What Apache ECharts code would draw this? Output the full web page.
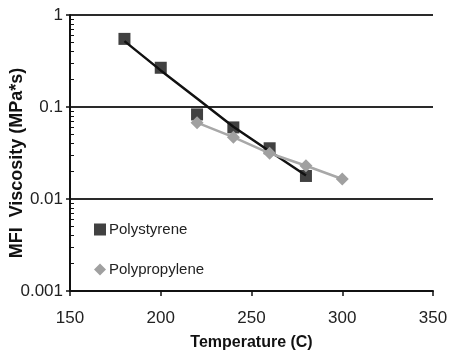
<!DOCTYPE html>
<html><head><meta charset="utf-8">
<script src="https://cdn.jsdelivr.net/npm/echarts@6/dist/echarts.min.js"></script>
<style>html,body{margin:0;padding:0;background:#fff}#c{width:453px;height:353px}</style>
</head><body><div id="c"></div>
<script>
// Data
const psTemps = [180, 200, 220, 240, 260, 280];
const psValues = [0.55, 0.267, 0.083, 0.060, 0.0356, 0.0178];
const psTrendValues = [0.52, 0.25, 0.124, 0.061, 0.033, 0.018];
const ppTemps = [220, 240, 260, 280, 300];
const ppValues = [0.0675, 0.047, 0.0314, 0.023, 0.0165];
const xTicks = [150, 200, 250, 300, 350];
const yTicks = [0.001, 0.01, 0.1, 1];

const minorVals = [];
[0.001, 0.01, 0.1].forEach(d => { for (let k = 2; k <= 9; k++) minorVals.push(+(d * k).toPrecision(3)); });

const chart = echarts.init(document.getElementById('c'), null, {renderer: 'canvas'});
const font = '"Liberation Sans", Arial, sans-serif';
chart.setOption({
  animation: false,
  textStyle: {fontFamily: font},
  grid: {left: 70, right: 20, top: 15, bottom: 62, containLabel: false, outerBoundsMode: 'none'},
  legend: {
    orient: 'vertical', left: 89, top: 217, itemWidth: 12, itemHeight: 12, itemGap: 25,
    textStyle: {fontSize: 15, color: '#222', fontFamily: font, padding: [0, 0, 0, -2]},
    data: [
      {name: 'Polystyrene', icon: 'rect', itemStyle: {color: '#111'}},
      {name: 'Polypropylene', icon: 'diamond', itemStyle: {color: '#a0a0a0'}}
    ]
  },
  xAxis: {
    type: 'value', min: xTicks[0], max: xTicks[xTicks.length - 1], interval: 50,
    name: 'Temperature (C)', nameLocation: 'middle', nameGap: 44, nameMoveOverlap: false,
    nameTextStyle: {fontSize: 16, fontWeight: 'bold', color: '#111', fontFamily: font},
    axisLine: {lineStyle: {color: '#111', width: 2}},
    axisTick: {show: true, length: 5, lineStyle: {color: '#111', width: 1.5}},
    axisLabel: {fontSize: 17, color: '#222', margin: 19},
    splitLine: {show: false}
  },
  yAxis: [{
    type: 'log', logBase: 10, min: yTicks[0], max: yTicks[yTicks.length - 1],
    name: 'MFI  Viscosity (MPa*s)', nameLocation: 'middle', nameGap: 44, nameMoveOverlap: false,
    nameTextStyle: {fontSize: 18, fontWeight: 'bold', color: '#111', fontFamily: font, padding: [0, 20, 0, 0]},
    axisLine: {show: true, lineStyle: {color: '#111', width: 2}},
    axisTick: {show: true, length: 4, lineStyle: {color: '#111', width: 1.5}},
    axisLabel: {fontSize: 17, color: '#222', margin: 7, formatter: v => String(+v.toPrecision(3))},
    splitLine: {show: true, lineStyle: {color: '#2a2a2a', width: 2}}
  }, {
    type: 'log', logBase: 10, min: yTicks[0], max: yTicks[yTicks.length - 1], position: 'left',
    axisLine: {show: false},
    axisTick: {show: true, inside: true, length: 4, customValues: minorVals, lineStyle: {color: '#111', width: 1}},
    axisLabel: {show: false},
    splitLine: {show: false}
  }],
  series: [
    {
      name: 'PS trend', type: 'line', showSymbol: false, symbol: 'none', z: 2,
      data: psTemps.map((t, i) => [t, psTrendValues[i]]),
      lineStyle: {color: '#111', width: 2.5}, silent: true
    },
    {
      name: 'Polystyrene', type: 'scatter', symbol: 'rect', symbolSize: 12, z: 3,
      data: psTemps.map((t, i) => [t, psValues[i]]),
      itemStyle: {color: '#111'}
    },
    {
      name: 'Polypropylene', type: 'line', symbol: 'diamond', symbolSize: 13, z: 4,
      data: ppTemps.map((t, i) => [t, ppValues[i]]),
      lineStyle: {color: '#a8a8a8', width: 2.5},
      itemStyle: {color: '#a0a0a0'}
    }
  ]
});
</script></body></html>
